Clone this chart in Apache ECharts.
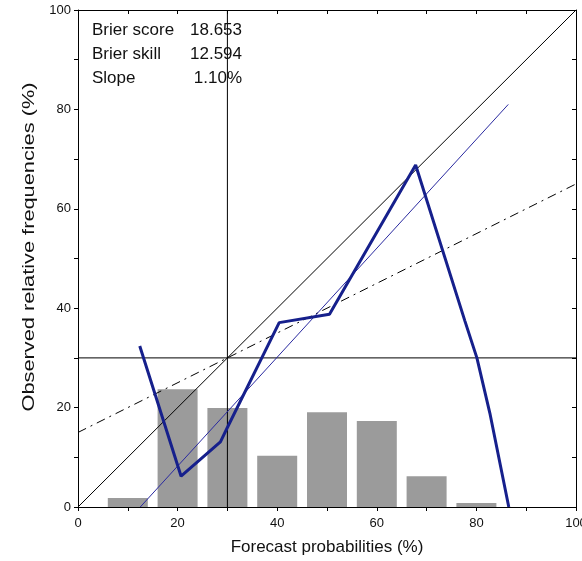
<!DOCTYPE html>
<html>
<head>
<meta charset="utf-8">
<script src="https://cdn.jsdelivr.net/npm/echarts@6/dist/echarts.min.js"></script>
<style>
  html, body { margin: 0; padding: 0; background: #fff; }
  #chart { width: 582px; height: 561px; }
</style>
</head>
<body>
<div id="chart"></div>
<script>
// Histogram of forecast use (share of forecasts per probability bin, %)
const probBins = [10, 20, 30, 40, 50, 60, 70, 80];
const binShare = [1.8, 23.7, 19.9, 10.3, 19.05, 17.3, 6.2, 0.8];

// Reliability curve: forecast probability vs observed frequency (%)
const forecastProb = [12.4, 20.7, 28.6, 29.9, 40.4, 50.5, 67.8, 77.7, 80.1, 82.7, 86.5];
const observedFreq = [32.4, 6.2, 13.1, 15.8, 37.1, 38.8, 68.8, 37.4, 30.0, 18.9, 0];

// Reference lines
const diagX = [0, 100], diagY = [0, 100];           // perfect reliability
const noSkillX = [0, 100], noSkillY = [15, 65];     // no-skill line
const fitX = [12.5, 86.4], fitY = [0, 81.0];        // weighted regression fit
const climatology = 30;                              // sample climatology (%)

// Scores shown in the corner
const statNames = ['Brier score', 'Brier skill', 'Slope'];
const statValues = ['18.653', '12.594', '1.10%'];

// Axis ticks
const axisMin = 0, axisMax = 100, labelStep = 20, tickStep = 10;

const FONT = '"Liberation Sans", Arial, sans-serif';
const pairs = (xs, ys) => xs.map((x, i) => [x, ys[i]]);

const chart = echarts.init(document.getElementById('chart'), null, { renderer: 'canvas' });

const GRID = { left: 78, right: 6, top: 10, bottom: 54, containLabel: false, outerBoundsMode: 'none' };

const statGraphics = [];
statNames.forEach((name, i) => {
  statGraphics.push({
    type: 'text', x: 92, y: 30 + i * 24, z: 100,
    style: { text: name, font: '17px ' + FONT, fill: '#111', textAlign: 'left', textVerticalAlign: 'middle' }
  });
  statGraphics.push({
    type: 'text', x: 242, y: 30 + i * 24, z: 100,
    style: { text: statValues[i], font: '17px ' + FONT, fill: '#111', textAlign: 'right', textVerticalAlign: 'middle' }
  });
});

const option = {
  animation: false,
  backgroundColor: '#fff',
  textStyle: { fontFamily: FONT },
  grid: GRID,
  xAxis: [
    {
      type: 'value', position: 'bottom', min: axisMin, max: axisMax, interval: labelStep,
      name: 'Forecast probabilities (%)', nameLocation: 'middle', nameGap: 32,
      nameTextStyle: { fontSize: 17, color: '#111', fontFamily: FONT },
      axisLine: { show: true, onZero: false, lineStyle: { color: '#000', width: 1 } },
      axisTick: { show: true, length: 4, lineStyle: { color: '#000' } },
      minorTick: { show: true, splitNumber: 2, length: 4, lineStyle: { color: '#000' } },
      axisLabel: { fontSize: 13, color: '#111', margin: 10, fontFamily: FONT },
      splitLine: { show: false }
    },
    {
      type: 'value', position: 'top', min: axisMin, max: axisMax, interval: tickStep,
      axisLine: { show: true, onZero: false, lineStyle: { color: '#000', width: 1 } },
      axisTick: { show: true, inside: true, length: 4, lineStyle: { color: '#000' } },
      axisLabel: { show: false }, splitLine: { show: false }
    }
  ],
  yAxis: [
    {
      type: 'value', position: 'left', min: axisMin, max: axisMax, interval: labelStep,
      axisLine: { show: true, onZero: false, lineStyle: { color: '#000', width: 1 } },
      axisTick: { show: true, length: 4, lineStyle: { color: '#000' } },
      minorTick: { show: true, splitNumber: 2, length: 4, lineStyle: { color: '#000' } },
      axisLabel: { fontSize: 13, color: '#111', margin: 7, fontFamily: FONT },
      splitLine: { show: false }
    },
    {
      type: 'value', position: 'right', min: axisMin, max: axisMax, interval: tickStep,
      axisLine: { show: true, onZero: false, lineStyle: { color: '#000', width: 1 } },
      axisTick: { show: true, inside: true, length: 4, lineStyle: { color: '#000' } },
      axisLabel: { show: false }, splitLine: { show: false }
    }
  ],
  graphic: [
    {
      type: 'text', x: 29, y: 247, rotation: Math.PI / 2, scaleX: 1.28, z: 100,
      style: {
        text: 'Observed relative frequencies (%)', font: '17px ' + FONT, fill: '#111',
        textAlign: 'center', textVerticalAlign: 'middle'
      }
    }
  ].concat(statGraphics),
  series: [
    {
      name: 'share', type: 'bar', xAxisIndex: 0, yAxisIndex: 0,
      data: pairs(probBins, binShare), barWidth: 40, z: 1,
      itemStyle: { color: '#9b9b9b' }, silent: true
    },
    {
      name: 'perfect', type: 'line', data: pairs(diagX, diagY), symbol: 'none', z: 3,
      lineStyle: { color: '#000', width: 1 }
    },
    {
      name: 'noskill', type: 'line', data: pairs(noSkillX, noSkillY), symbol: 'none', z: 3,
      lineStyle: { color: '#000', width: 1, type: [9, 5, 2, 5] }
    },
    {
      name: 'climX', type: 'line', data: [[climatology, axisMin], [climatology, axisMax]], symbol: 'none', z: 3,
      lineStyle: { color: '#000', width: 1 }
    },
    {
      name: 'climY', type: 'line', data: [[axisMin, climatology], [axisMax, climatology]], symbol: 'none', z: 3,
      lineStyle: { color: '#000', width: 1 }
    },
    {
      name: 'fit', type: 'line', data: pairs(fitX, fitY), symbol: 'none', z: 4,
      lineStyle: { color: '#2a2aa0', width: 1 }
    },
    {
      name: 'reliability', type: 'line', data: pairs(forecastProb, observedFreq), symbol: 'none', z: 5,
      lineStyle: { color: '#16208c', width: 3 }
    }
  ]
};

chart.setOption(option);
</script>
</body>
</html>
